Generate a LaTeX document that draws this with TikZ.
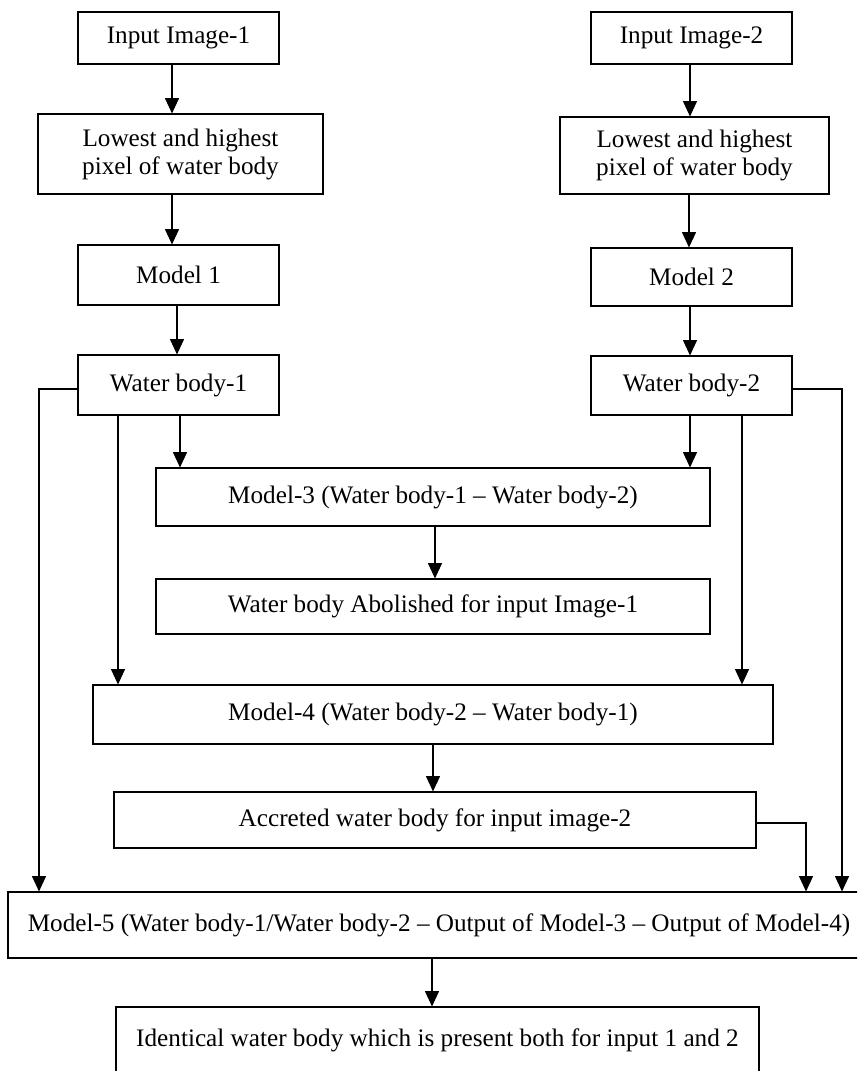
\documentclass[tikz,border=0pt]{standalone}
\usepackage{fontspec}
\setmainfont{Liberation Serif}
\usetikzlibrary{arrows.meta}
\begin{document}
\begin{tikzpicture}[x=0.75pt,y=-0.75pt,
  box/.style={draw, line width=0.8pt, inner sep=0pt, align=center,
    font=\fontsize{18.9}{21}\selectfont},
  arr/.style={line width=0.8pt, -{Triangle[length=11.5pt,width=10.5pt]}},
  ln/.style={line width=0.8pt}]
\useasboundingbox (0,0) rectangle (857,1071);
\clip (0,0) rectangle (857,1071);
\fill[white] (0,0) rectangle (857,1071);
% nodes
\node[box, minimum width=201*0.75pt, minimum height=52*0.75pt] (in1) at (178.5,38) {Input Image-1};
\node[box, minimum width=285*0.75pt, minimum height=80*0.75pt] (low1) at (180.5,154) {Lowest and highest\\pixel of water body};
\node[box, minimum width=201*0.75pt, minimum height=60*0.75pt] (m1) at (178.5,275) {Model 1};
\node[box, minimum width=201*0.75pt, minimum height=60*0.75pt] (wb1) at (178.5,385) {Water body-1};
\node[box, minimum width=201*0.75pt, minimum height=52*0.75pt] (in2) at (691.5,38) {Input Image-2};
\node[box, minimum width=269*0.75pt, minimum height=77*0.75pt] (low2) at (694.5,155.5) {Lowest and highest\\pixel of water body};
\node[box, minimum width=201*0.75pt, minimum height=58*0.75pt] (m2) at (691.5,277) {Model 2};
\node[box, minimum width=201*0.75pt, minimum height=59*0.75pt] (wb2) at (691.5,385.5) {Water body-2};
\node[box, minimum width=554*0.75pt, minimum height=58*0.75pt] (m3) at (433,497) {Model-3 (Water body-1 – Water body-2)};
\node[box, minimum width=554*0.75pt, minimum height=55*0.75pt] (ab) at (433,606.5) {Water body Abolished for input Image-1};
\node[box, minimum width=680*0.75pt, minimum height=59*0.75pt] (m4) at (433,714.5) {Model-4 (Water body-2 – Water body-1)};
\node[box, minimum width=642*0.75pt, minimum height=56*0.75pt] (acc) at (435,820) {Accreted water body for input image-2};
\node[box, minimum width=862*0.75pt, minimum height=66*0.75pt] (m5) at (439,925) {Model-5 (Water body-1/Water body-2 – Output of Model-3 – Output of Model-4)};
\node[box, minimum width=643*0.75pt, minimum height=66*0.75pt] (id) at (437.5,1040) {Identical water body which is present both for input 1 and 2};
% column coordinates
\coordinate (c172) at (172,0);
\coordinate (c177) at (177,0);
\coordinate (c180) at (180,0);
\coordinate (c118) at (118,0);
\coordinate (c39) at (39,0);
\coordinate (c690) at (690,0);
\coordinate (c689) at (689,0);
\coordinate (c742) at (742,0);
\coordinate (c842) at (842,0);
\coordinate (c806) at (806,0);
\coordinate (c435) at (435,0);
\coordinate (c433) at (433,0);
\coordinate (c432) at (432,0);
\coordinate (r389) at (0,389);
\coordinate (r823) at (0,823);
% arrows
\draw[arr] (in1.south -| c172) -- (low1.north -| c172);
\draw[arr] (low1.south -| c172) -- (m1.north -| c172);
\draw[arr] (m1.south -| c177) -- (wb1.north -| c177);
\draw[arr] (in2.south -| c690) -- (low2.north -| c690);
\draw[arr] (low2.south -| c689) -- (m2.north -| c689);
\draw[arr] (m2.south -| c690) -- (wb2.north -| c690);
\draw[arr] (wb1.south -| c180) -- (m3.north -| c180);
\draw[arr] (wb2.south -| c690) -- (m3.north -| c690);
\draw[arr] (wb1.south -| c118) -- (m4.north -| c118);
\draw[arr] (wb2.south -| c742) -- (m4.north -| c742);
\draw[arr] (m3.south -| c435) -- (ab.north -| c435);
\draw[arr] (m4.south -| c433) -- (acc.north -| c433);
\draw[arr] (wb1.west |- r389) -| (m5.north -| c39);
\draw[arr] (wb2.east |- r389) -| (m5.north -| c842);
\draw[arr] (acc.east |- r823) -| (m5.north -| c806);
\draw[arr] (m5.south -| c432) -- (id.north -| c432);
\end{tikzpicture}
\end{document}
